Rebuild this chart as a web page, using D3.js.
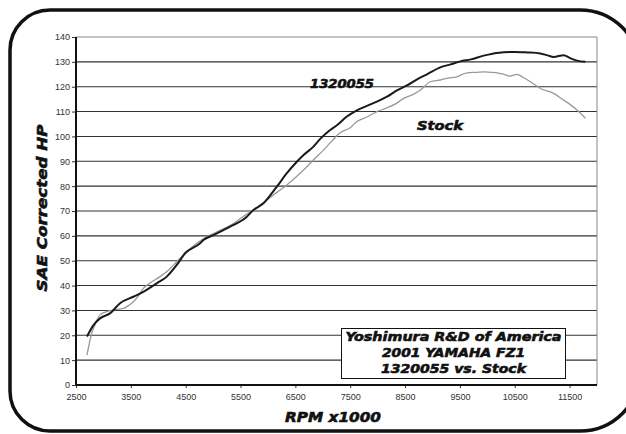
<!DOCTYPE html>
<html lang="en">
  <head>
    <meta charset="utf-8">
    <title>Yoshimura FZ1 dyno</title>
    <script type="text/javascript" src="https://cdn.jsdelivr.net/npm/d3@7"></script>
    <style type="text/css">

html, body {
  margin: 0;
  padding: 0;
  background: #fff;
  overflow: hidden;
}

.tick text {
  font: 9px "Liberation Sans", Arial, sans-serif;
  fill: #333;
}

.title {
  font-family: "DejaVu Sans", sans-serif;
  font-weight: bold;
  font-style: italic;
  fill: #111;
  stroke: #111;
  stroke-width: 0.6px;
}

    </style>
  </head>
  <body>
    <div id="chart"></div>
    <script type="text/javascript">

// RPM ticks and HP ticks
var rpmTicks = [2500, 3500, 4500, 5500, 6500, 7500, 8500, 9500, 10500, 11500];
var hpTicks = [0, 10, 20, 30, 40, 50, 60, 70, 80, 90, 100, 110, 120, 130, 140];

// 1320055 curve (rpm, hp)
var pipeRpm = [2700, 2816, 2938, 3120, 3303, 3546, 3728, 3972, 4155, 4337, 4489, 4763, 4823, 5005, 5310, 5615, 5735, 5918, 6162, 6345, 6527, 6650, 6830, 6953, 7100, 7257, 7440, 7622, 7805, 7987, 8170, 8352, 8535, 8720, 8900, 9142, 9330, 9507, 9700, 9933, 10100, 10298, 10500, 10724, 10967, 11100, 11210, 11393, 11500, 11636, 11788];
var pipeHp  = [19.5, 24, 26.8, 28.8, 32.9, 35.5, 37.5, 40.9, 43.6, 48.3, 53, 57, 58.3, 60.3, 63.7, 67.7, 70.4, 73.1, 79.8, 85.2, 89.8, 92.5, 95.9, 99, 102, 104.5, 108, 110.5, 112.3, 114, 116, 118.5, 120.5, 123, 125, 127.8, 129, 130.2, 131, 132.5, 133.3, 133.9, 134, 133.8, 133.4, 132.6, 132, 132.7, 131.6, 130.5, 130];

// Stock curve
var stockRpm = [2700, 2786, 2860, 2938, 3060, 3180, 3363, 3460, 3546, 3640, 3728, 3850, 4033, 4200, 4337, 4520, 4700, 4945, 5150, 5371, 5550, 5735, 5980, 6162, 6345, 6527, 6710, 6850, 7013, 7150, 7318, 7500, 7622, 7805, 7987, 8170, 8352, 8473, 8656, 8800, 8960, 9142, 9265, 9446, 9630, 9800, 9933, 10060, 10177, 10300, 10420, 10542, 10650, 10785, 10967, 11210, 11393, 11500, 11636, 11788];
var stockHp  = [12, 20.8, 25, 28.2, 29.5, 30.2, 30.8, 32, 33.5, 36, 38.9, 41, 43.6, 46.5, 49.6, 53.6, 57, 60.3, 62.5, 65, 67.8, 70.4, 74.4, 77.5, 80.5, 84, 87.8, 91, 94.5, 97.8, 101.5, 103.5, 106, 107.8, 110, 111.5, 113.4, 115.3, 117, 119, 122, 122.7, 123.4, 124, 125.6, 125.8, 126, 125.8, 125.6, 125, 124.3, 125, 123.8, 122, 119.3, 117.3, 114.6, 113, 110.6, 107.3];

var legendLines = ["Yoshimura R&D of America", "2001 YAMAHA FZ1", "1320055 vs. Stock"];

var W = 626, H = 434;
var margin = {left: 76, top: 37, right: 29, bottom: 49};

var svg = d3.select("#chart").append("svg")
    .attr("width", W)
    .attr("height", H)
    .style("display", "block");

// rounded outer frame, the right side runs past the picture edge
var fl = 10, ft = 10, fr = 640, fb = 431, rl = 40, rr = 60;
var frame = d3.path();
frame.moveTo(fl + rl, ft);
frame.lineTo(fr - rr, ft);
frame.arcTo(fr, ft, fr, ft + rr, rr);
frame.lineTo(fr, fb - rr);
frame.arcTo(fr, fb, fr - rr, fb, rr);
frame.lineTo(fl + rl, fb);
frame.arcTo(fl, fb, fl, fb - rl, rl);
frame.lineTo(fl, ft + rl);
frame.arcTo(fl, ft, fl + rl, ft, rl);
frame.closePath();
svg.append("path")
    .attr("d", frame.toString())
    .attr("fill", "none")
    .attr("stroke", "#111")
    .attr("stroke-width", 3.5);

var x = d3.scaleLinear().domain([2500, 12000]).range([margin.left, W - margin.right]);
var y = d3.scaleLinear().domain([0, 140]).range([H - margin.bottom, margin.top]);

// horizontal grid
svg.append("g")
  .selectAll("line")
  .data(hpTicks.slice(1))
  .enter().append("line")
    .attr("x1", x(2500)).attr("x2", x(12000))
    .attr("y1", function(d) { return y(d); })
    .attr("y2", function(d) { return y(d); })
    .attr("stroke", function(d) { return d === 140 ? "#888" : "#333"; })
    .attr("stroke-width", 1.1);

// right border of plot
svg.append("line")
    .attr("x1", x(12000)).attr("x2", x(12000))
    .attr("y1", y(140)).attr("y2", y(0))
    .attr("stroke", "#888").attr("stroke-width", 1);

// axes
var xAxis = svg.append("g")
    .attr("transform", "translate(0," + y(0) + ")")
    .call(d3.axisBottom(x).tickValues(rpmTicks).tickSize(3).tickPadding(6).tickFormat(d3.format("d")));
xAxis.select(".domain").remove();
xAxis.selectAll(".tick line").attr("stroke", "#333");

var yAxis = svg.append("g")
    .attr("transform", "translate(" + x(2500) + ",0)")
    .call(d3.axisLeft(y).tickValues(hpTicks).tickSize(4).tickPadding(2));
yAxis.select(".domain").remove();
yAxis.selectAll(".tick line").attr("stroke", "#333");

svg.append("line")
    .attr("x1", x(2500)).attr("x2", x(12000))
    .attr("y1", y(0)).attr("y2", y(0))
    .attr("stroke", "#111").attr("stroke-width", 2);
svg.append("line")
    .attr("x1", x(2500)).attr("x2", x(2500))
    .attr("y1", y(140)).attr("y2", y(0))
    .attr("stroke", "#111").attr("stroke-width", 2);

// curves
var line = d3.line()
    .x(function(d) { return x(d[0]); })
    .y(function(d) { return y(d[1]); })
    .curve(d3.curveMonotoneX);

svg.append("path")
    .datum(d3.zip(stockRpm, stockHp))
    .attr("d", line)
    .attr("fill", "none")
    .attr("stroke", "#999")
    .attr("stroke-width", 1.3);

svg.append("path")
    .datum(d3.zip(pipeRpm, pipeHp))
    .attr("d", line)
    .attr("fill", "none")
    .attr("stroke", "#1a1a1a")
    .attr("stroke-width", 2);

// curve labels
svg.append("text").attr("class", "title")
    .attr("x", 310).attr("y", 88)
    .attr("font-size", 13)
    .attr("textLength", 64).attr("lengthAdjust", "spacingAndGlyphs")
    .text("1320055");
svg.append("text").attr("class", "title")
    .attr("x", 417).attr("y", 130)
    .attr("font-size", 13)
    .attr("textLength", 46).attr("lengthAdjust", "spacingAndGlyphs")
    .text("Stock");

// legend box
svg.append("rect")
    .attr("x", 341.5).attr("y", 328.5)
    .attr("width", 224).attr("height", 50)
    .attr("fill", "#fff")
    .attr("stroke", "#111").attr("stroke-width", 1);

var legendW = [216, 143, 145];
svg.append("g").selectAll("text")
    .data(legendLines)
  .enter().append("text")
    .attr("class", "title")
    .attr("x", 453.5)
    .attr("y", function(d, i) { return 341 + i * 16; })
    .attr("text-anchor", "middle")
    .attr("font-size", 12.5)
    .attr("textLength", function(d, i) { return legendW[i]; })
    .attr("lengthAdjust", "spacingAndGlyphs")
    .text(function(d) { return d; });

// axis titles
svg.append("text").attr("class", "title")
    .attr("x", 333).attr("y", 422)
    .attr("text-anchor", "middle")
    .attr("font-size", 14)
    .attr("textLength", 96).attr("lengthAdjust", "spacingAndGlyphs")
    .text("RPM x1000");

svg.append("text").attr("class", "title")
    .attr("transform", "translate(47,208) rotate(-90)")
    .attr("text-anchor", "middle")
    .attr("font-size", 14)
    .attr("textLength", 167).attr("lengthAdjust", "spacingAndGlyphs")
    .text("SAE Corrected HP");

    </script>
  </body>
</html>
